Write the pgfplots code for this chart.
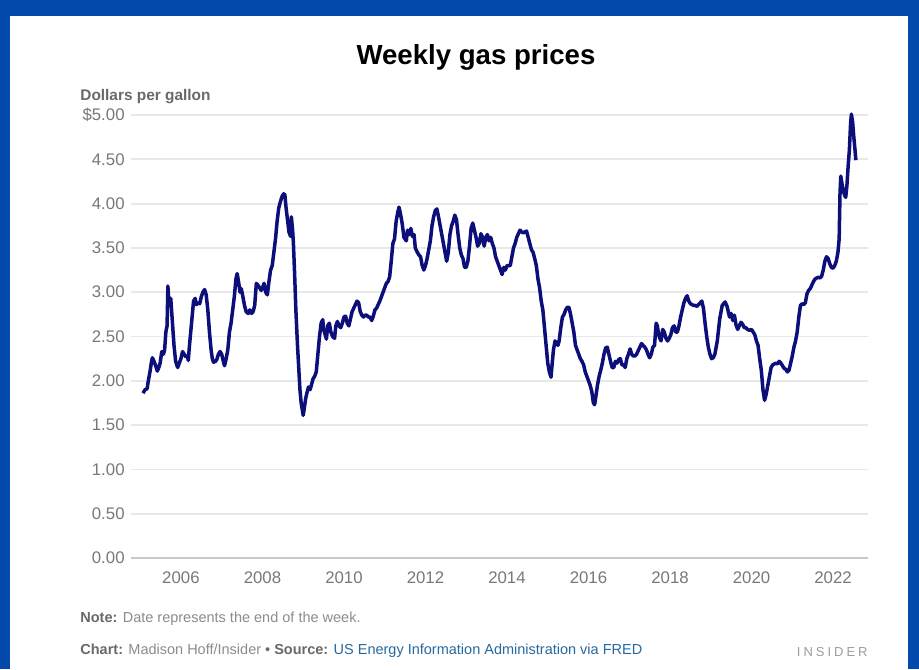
\documentclass[border=0pt]{standalone}
\usepackage{pgfplots}
\pgfplotsset{compat=1.18}
\usepackage{fontspec}
\setmainfont{Liberation Sans}
\definecolor{frameblue}{RGB}{4,74,172}
\definecolor{navyline}{RGB}{12,14,122}
\definecolor{gridgray}{RGB}{232,232,232}
\definecolor{axisgray}{RGB}{200,200,200}
\definecolor{ticktext}{RGB}{120,120,120}
\definecolor{labeltext}{RGB}{105,105,105}
\definecolor{notetext}{RGB}{140,140,140}
\definecolor{linktext}{RGB}{40,105,160}
\begin{document}
\begin{tikzpicture}
\fill[frameblue] (0pt,0pt) rectangle (459.5pt,334.5pt);
\fill[white] (5pt,0pt) rectangle (454pt,326.5pt);
\node[font=\fontsize{13.8}{16}\selectfont\bfseries, text=black] at (238pt,306pt) {Weekly gas prices};
\node[font=\fontsize{7.7}{9}\selectfont\bfseries, text=labeltext, anchor=west, inner sep=0pt] at (40pt,286pt) {Dollars per gallon};
\begin{axis}[
  at={(65.5pt,55.5pt)}, anchor=south west,
  scale only axis, width=368.5pt, height=221.5pt,
  xmin=2004.775, xmax=2022.858, ymin=0, ymax=5,
  clip=false,
  axis line style={draw=none},
  axis x line*=bottom, axis y line*=left,
  major tick length=0pt,
  ymajorgrids, grid style={gridgray, line width=0.9pt},
  ytick={0,0.5,1,1.5,2,2.5,3,3.5,4,4.5,5},
  yticklabels={0.00,0.50,1.00,1.50,2.00,2.50,3.00,3.50,4.00,4.50,\$5.00},
  xtick={2006,2008,2010,2012,2014,2016,2018,2020,2022},
  xticklabels={2006,2008,2010,2012,2014,2016,2018,2020,2022},
  /pgf/number format/assume math mode=true,
  ticklabel style={font=\fontsize{8.4}{10}\selectfont, text=ticktext},
  yticklabel style={anchor=east, inner sep=0pt, xshift=-3pt},
  xticklabel style={anchor=north, inner sep=0pt, yshift=-6.5pt},
]
\draw[axisgray, line width=1pt] (axis cs:2004.775,0) -- (axis cs:2022.858,0);
\addplot[navyline, line width=1.75pt, line join=round, mark=none] coordinates {
(2005.07,1.86)(2005.12,1.90)(2005.17,1.91)(2005.20,2.00)(2005.24,2.10)(2005.28,2.22)(2005.30,2.26)
(2005.34,2.22)(2005.38,2.17)(2005.42,2.11)(2005.45,2.14)(2005.49,2.20)(2005.53,2.33)(2005.57,2.30)
(2005.60,2.35)(2005.63,2.55)(2005.66,2.62)(2005.68,3.07)(2005.70,2.92)(2005.72,2.85)(2005.75,2.93)
(2005.77,2.80)(2005.80,2.60)(2005.83,2.40)(2005.87,2.22)(2005.92,2.15)(2005.96,2.20)(2006.00,2.25)
(2006.04,2.33)(2006.08,2.30)(2006.12,2.27)(2006.16,2.28)(2006.18,2.23)(2006.21,2.40)(2006.25,2.60)
(2006.28,2.75)(2006.31,2.90)(2006.35,2.93)(2006.38,2.86)(2006.42,2.88)(2006.46,2.87)(2006.50,2.95)
(2006.54,3.00)(2006.58,3.03)(2006.62,2.97)(2006.66,2.80)(2006.70,2.55)(2006.74,2.35)(2006.77,2.25)
(2006.80,2.21)(2006.85,2.22)(2006.88,2.24)(2006.92,2.30)(2006.96,2.33)(2007.00,2.30)(2007.04,2.22)
(2007.07,2.17)(2007.11,2.25)(2007.15,2.35)(2007.19,2.55)(2007.23,2.65)(2007.27,2.80)(2007.31,2.95)
(2007.35,3.15)(2007.38,3.21)(2007.42,3.10)(2007.45,3.00)(2007.48,3.04)(2007.52,2.95)(2007.56,2.85)
(2007.60,2.78)(2007.65,2.76)(2007.69,2.80)(2007.73,2.76)(2007.77,2.78)(2007.81,2.85)(2007.85,3.10)
(2007.89,3.08)(2007.93,3.05)(2007.97,3.02)(2008.00,3.05)(2008.04,3.10)(2008.08,3.00)(2008.12,2.97)
(2008.16,3.12)(2008.20,3.25)(2008.24,3.30)(2008.28,3.45)(2008.32,3.60)(2008.36,3.80)(2008.40,3.95)
(2008.44,4.02)(2008.48,4.08)(2008.52,4.11)(2008.55,4.10)(2008.58,3.95)(2008.62,3.80)(2008.65,3.68)
(2008.69,3.63)(2008.71,3.85)(2008.74,3.70)(2008.76,3.55)(2008.79,3.20)(2008.82,2.80)(2008.86,2.40)
(2008.89,2.15)(2008.92,1.90)(2008.95,1.75)(2009.00,1.61)(2009.03,1.70)(2009.06,1.80)(2009.10,1.88)
(2009.13,1.93)(2009.17,1.90)(2009.20,1.95)(2009.24,2.02)(2009.28,2.05)(2009.32,2.10)(2009.36,2.30)
(2009.40,2.50)(2009.44,2.65)(2009.48,2.69)(2009.50,2.58)(2009.54,2.52)(2009.57,2.47)(2009.60,2.62)
(2009.64,2.65)(2009.68,2.55)(2009.72,2.50)(2009.77,2.48)(2009.80,2.62)(2009.84,2.67)(2009.88,2.62)
(2009.92,2.60)(2009.96,2.65)(2010.00,2.72)(2010.04,2.73)(2010.08,2.65)(2010.12,2.62)(2010.16,2.70)
(2010.20,2.78)(2010.24,2.82)(2010.28,2.86)(2010.32,2.90)(2010.36,2.88)(2010.40,2.78)(2010.44,2.74)
(2010.48,2.72)(2010.52,2.74)(2010.56,2.74)(2010.60,2.72)(2010.64,2.72)(2010.68,2.68)(2010.72,2.73)
(2010.76,2.80)(2010.80,2.82)(2010.84,2.86)(2010.88,2.90)(2010.92,2.95)(2010.96,3.00)(2011.00,3.05)
(2011.04,3.10)(2011.08,3.12)(2011.12,3.17)(2011.16,3.35)(2011.20,3.55)(2011.24,3.60)(2011.28,3.80)
(2011.32,3.90)(2011.35,3.96)(2011.38,3.90)(2011.42,3.80)(2011.45,3.70)(2011.47,3.62)(2011.50,3.60)
(2011.53,3.58)(2011.56,3.70)(2011.60,3.65)(2011.64,3.72)(2011.68,3.63)(2011.72,3.65)(2011.75,3.50)
(2011.80,3.45)(2011.84,3.42)(2011.88,3.40)(2011.92,3.30)(2011.96,3.25)(2012.00,3.30)(2012.04,3.38)
(2012.08,3.48)(2012.12,3.58)(2012.16,3.75)(2012.20,3.85)(2012.24,3.92)(2012.28,3.94)(2012.32,3.85)
(2012.36,3.75)(2012.40,3.65)(2012.44,3.55)(2012.48,3.45)(2012.52,3.35)(2012.56,3.45)(2012.60,3.65)
(2012.64,3.75)(2012.68,3.80)(2012.72,3.87)(2012.76,3.82)(2012.80,3.65)(2012.84,3.50)(2012.88,3.42)
(2012.92,3.38)(2012.96,3.28)(2013.00,3.28)(2013.04,3.35)(2013.08,3.52)(2013.12,3.72)(2013.16,3.78)
(2013.20,3.70)(2013.24,3.62)(2013.28,3.52)(2013.32,3.55)(2013.36,3.66)(2013.40,3.62)(2013.44,3.52)
(2013.48,3.62)(2013.52,3.65)(2013.56,3.58)(2013.60,3.62)(2013.64,3.55)(2013.68,3.50)(2013.72,3.40)
(2013.76,3.35)(2013.80,3.30)(2013.84,3.25)(2013.88,3.20)(2013.92,3.28)(2013.96,3.25)(2014.00,3.30)
(2014.04,3.30)(2014.08,3.30)(2014.12,3.40)(2014.16,3.50)(2014.20,3.55)(2014.24,3.62)(2014.28,3.66)
(2014.32,3.70)(2014.36,3.68)(2014.40,3.67)(2014.44,3.68)(2014.48,3.69)(2014.52,3.62)(2014.56,3.55)
(2014.60,3.48)(2014.64,3.45)(2014.68,3.38)(2014.72,3.30)(2014.76,3.15)(2014.80,3.05)(2014.84,2.90)
(2014.88,2.80)(2014.92,2.60)(2014.96,2.40)(2015.00,2.20)(2015.04,2.10)(2015.08,2.04)(2015.11,2.20)
(2015.14,2.35)(2015.18,2.45)(2015.22,2.42)(2015.25,2.40)(2015.28,2.45)(2015.32,2.60)(2015.36,2.72)
(2015.40,2.75)(2015.44,2.80)(2015.48,2.83)(2015.52,2.83)(2015.56,2.75)(2015.60,2.65)(2015.64,2.55)
(2015.68,2.40)(2015.72,2.35)(2015.76,2.30)(2015.80,2.25)(2015.84,2.22)(2015.88,2.18)(2015.92,2.10)
(2015.96,2.05)(2016.00,2.00)(2016.04,1.95)(2016.08,1.88)(2016.12,1.75)(2016.15,1.73)(2016.18,1.82)
(2016.22,1.95)(2016.26,2.05)(2016.30,2.12)(2016.34,2.20)(2016.38,2.30)(2016.42,2.37)(2016.46,2.38)
(2016.50,2.30)(2016.54,2.22)(2016.58,2.15)(2016.62,2.15)(2016.66,2.22)(2016.70,2.20)(2016.74,2.24)
(2016.78,2.25)(2016.82,2.18)(2016.86,2.18)(2016.90,2.15)(2016.94,2.25)(2016.98,2.30)(2017.02,2.36)
(2017.06,2.30)(2017.10,2.28)(2017.14,2.28)(2017.18,2.30)(2017.22,2.34)(2017.26,2.38)(2017.30,2.42)
(2017.34,2.40)(2017.38,2.38)(2017.42,2.35)(2017.46,2.30)(2017.50,2.26)(2017.54,2.30)(2017.58,2.38)
(2017.62,2.40)(2017.66,2.65)(2017.69,2.62)(2017.72,2.52)(2017.75,2.48)(2017.78,2.45)(2017.82,2.58)
(2017.86,2.55)(2017.90,2.48)(2017.94,2.45)(2017.98,2.48)(2018.02,2.52)(2018.06,2.60)(2018.10,2.62)
(2018.14,2.55)(2018.18,2.55)(2018.22,2.62)(2018.26,2.72)(2018.30,2.80)(2018.34,2.88)(2018.38,2.93)
(2018.42,2.96)(2018.46,2.90)(2018.50,2.87)(2018.54,2.86)(2018.58,2.85)(2018.62,2.85)(2018.66,2.84)
(2018.70,2.86)(2018.74,2.88)(2018.78,2.90)(2018.82,2.82)(2018.86,2.65)(2018.90,2.50)(2018.94,2.38)
(2018.98,2.30)(2019.02,2.25)(2019.06,2.26)(2019.10,2.30)(2019.16,2.45)(2019.22,2.70)(2019.28,2.85)
(2019.35,2.89)(2019.40,2.84)(2019.46,2.72)(2019.50,2.76)(2019.54,2.68)(2019.58,2.74)(2019.62,2.63)
(2019.66,2.58)(2019.70,2.62)(2019.74,2.66)(2019.78,2.64)(2019.82,2.60)(2019.86,2.60)(2019.90,2.58)
(2019.95,2.57)(2020.00,2.58)(2020.04,2.55)(2020.08,2.52)(2020.12,2.45)(2020.16,2.40)(2020.20,2.25)
(2020.24,2.12)(2020.28,1.90)(2020.32,1.78)(2020.36,1.85)(2020.40,1.95)(2020.44,2.05)(2020.48,2.15)
(2020.52,2.18)(2020.56,2.19)(2020.60,2.20)(2020.64,2.19)(2020.68,2.22)(2020.72,2.20)(2020.76,2.17)
(2020.80,2.14)(2020.84,2.13)(2020.88,2.10)(2020.92,2.12)(2020.96,2.20)(2021.00,2.28)(2021.04,2.38)
(2021.08,2.45)(2021.12,2.55)(2021.16,2.72)(2021.20,2.85)(2021.24,2.87)(2021.28,2.86)(2021.32,2.88)
(2021.36,2.98)(2021.40,3.02)(2021.44,3.04)(2021.48,3.08)(2021.52,3.12)(2021.56,3.15)(2021.60,3.16)
(2021.64,3.17)(2021.68,3.16)(2021.72,3.18)(2021.76,3.25)(2021.80,3.35)(2021.84,3.40)(2021.88,3.38)
(2021.92,3.32)(2021.96,3.28)(2022.00,3.27)(2022.04,3.30)(2022.08,3.35)(2022.12,3.45)(2022.15,3.60)
(2022.17,4.10)(2022.19,4.31)(2022.22,4.22)(2022.25,4.15)(2022.28,4.10)(2022.31,4.07)(2022.34,4.20)
(2022.37,4.42)(2022.40,4.60)(2022.43,4.90)(2022.45,5.01)(2022.48,4.92)(2022.51,4.75)(2022.54,4.60)
(2022.56,4.49)
};
\end{axis}
\node[font=\fontsize{7.25}{8.5}\selectfont, text=notetext, anchor=west, inner sep=0pt] at (40pt,25pt) {{\bfseries\color{labeltext}Note:} Date represents the end of the week.};
\node[font=\fontsize{7.25}{8.5}\selectfont, text=notetext, anchor=west, inner sep=0pt] at (40pt,9pt) {{\bfseries\color{labeltext}Chart:} Madison Hoff/Insider {\color{labeltext}\textbullet} {\bfseries\color{labeltext}Source:} {\color{linktext}US Energy Information Administration via FRED}};
\node[font=\fontsize{6.5}{8}\selectfont\addfontfeatures{LetterSpace=23}, text=notetext!85, anchor=east, inner sep=0pt] at (434pt,8.5pt) {INSIDER};
\end{tikzpicture}
\end{document}
